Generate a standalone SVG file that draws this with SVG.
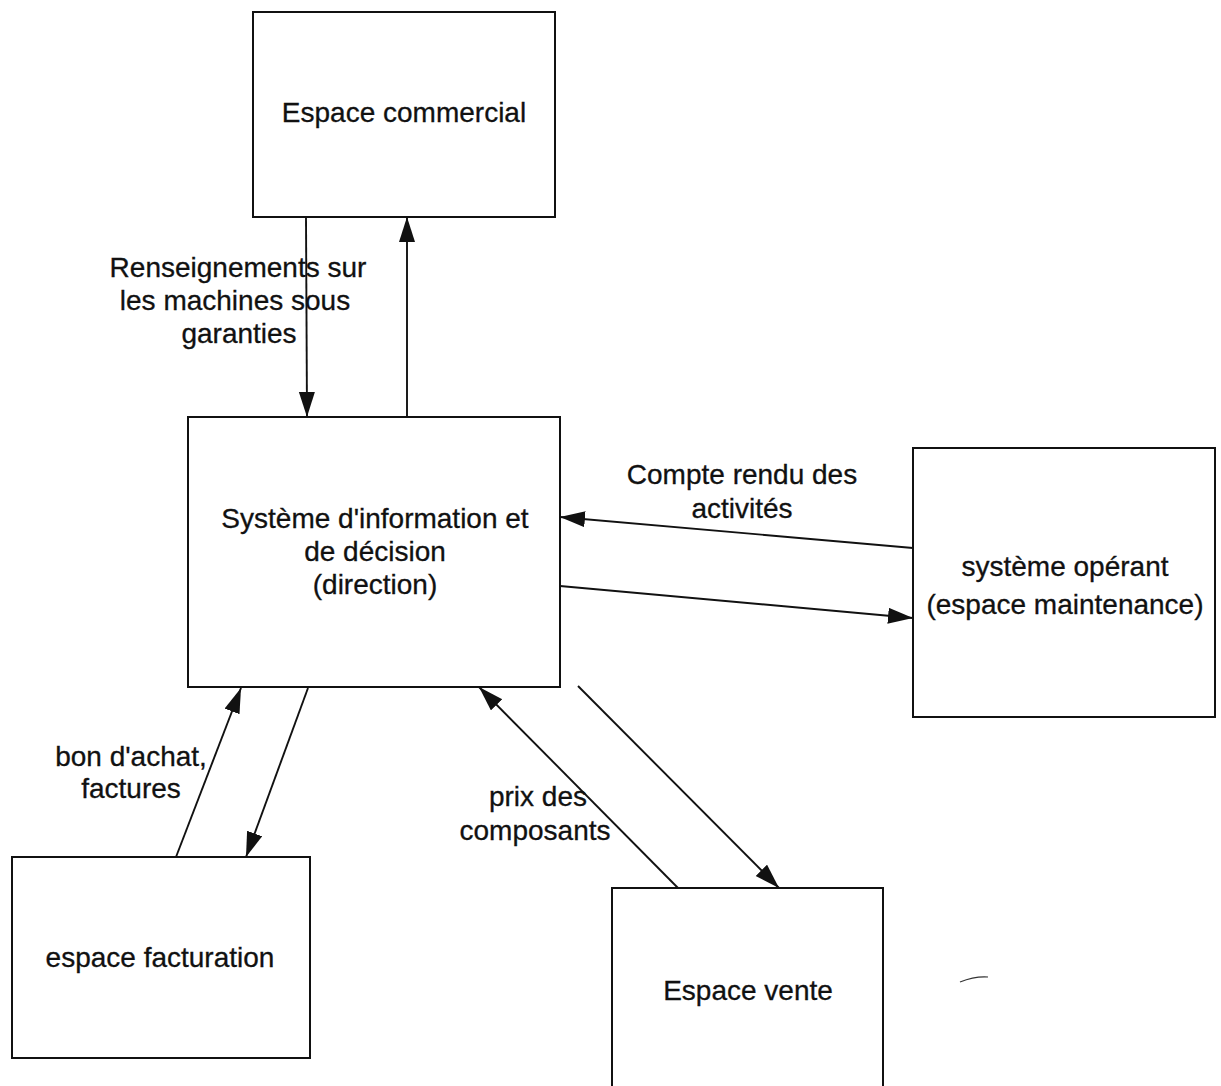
<svg xmlns="http://www.w3.org/2000/svg" width="1221" height="1086" viewBox="0 0 1221 1086">
  <style>
    .box { fill: #ffffff; stroke: #111111; stroke-width: 2; }
    .lbl { font-family: "Liberation Sans", Arial, sans-serif; font-size: 28px; fill: #111111; stroke: #111111; stroke-width: 0.3; text-anchor: middle; }
    .flow { fill: none; stroke: #111111; stroke-width: 1.9; }
  </style>
  <defs>
    <marker id="arrow" markerUnits="userSpaceOnUse" markerWidth="28" markerHeight="18" refX="25" refY="8" orient="auto">
      <path d="M0,0 L25,8 L0,16 z" fill="#111111"/>
    </marker>
  </defs>
  <rect width="1221" height="1086" fill="#ffffff"/>

  <g id="espace-commercial">
    <rect class="box" x="253" y="12" width="302" height="205"/>
    <text class="lbl" x="404" y="122">Espace commercial</text>
  </g>

  <g id="systeme-information">
    <rect class="box" x="188" y="417" width="372" height="270"/>
    <text class="lbl" x="375" y="528">Système d'information et</text>
    <text class="lbl" x="375" y="561">de décision</text>
    <text class="lbl" x="375" y="594">(direction)</text>
  </g>

  <g id="systeme-operant">
    <rect class="box" x="913" y="448" width="302" height="269"/>
    <text class="lbl" x="1065" y="576">système opérant</text>
    <text class="lbl" x="1065" y="614">(espace maintenance)</text>
  </g>

  <g id="espace-facturation">
    <rect class="box" x="12" y="857" width="298" height="201"/>
    <text class="lbl" x="160" y="967">espace facturation</text>
  </g>

  <g id="espace-vente">
    <rect class="box" x="612" y="888" width="271" height="210"/>
    <text class="lbl" x="748" y="1000">Espace vente</text>
  </g>

  <g id="connectors">
    <line class="flow" x1="306" y1="217" x2="307" y2="417" marker-end="url(#arrow)"/>
    <line class="flow" x1="407" y1="417" x2="407" y2="217" marker-end="url(#arrow)"/>
    <line class="flow" x1="913" y1="548" x2="560" y2="517" marker-end="url(#arrow)"/>
    <line class="flow" x1="560" y1="586" x2="913" y2="618" marker-end="url(#arrow)"/>
    <line class="flow" x1="176" y1="857" x2="241" y2="688" marker-end="url(#arrow)"/>
    <line class="flow" x1="308" y1="688" x2="246" y2="857" marker-end="url(#arrow)"/>
    <line class="flow" x1="678" y1="888" x2="479" y2="687" marker-end="url(#arrow)"/>
    <line class="flow" x1="578" y1="686" x2="779" y2="888" marker-end="url(#arrow)"/>
  </g>

  <g id="flow-labels">
    <text class="lbl" x="238" y="277">Renseignements sur</text>
    <text class="lbl" x="235" y="310">les machines sous</text>
    <text class="lbl" x="239" y="343">garanties</text>
    <text class="lbl" x="742" y="484">Compte rendu des</text>
    <text class="lbl" x="742" y="518">activités</text>
    <text class="lbl" x="131" y="766">bon d'achat,</text>
    <text class="lbl" x="131" y="798">factures</text>
    <text class="lbl" x="538" y="806">prix des</text>
    <text class="lbl" x="535" y="840">composants</text>
  </g>

  <!-- small pen stroke below the right-hand box -->
  <path d="M960,982 Q975,976 988,977" fill="none" stroke="#333333" stroke-width="1.2"/>
</svg>
